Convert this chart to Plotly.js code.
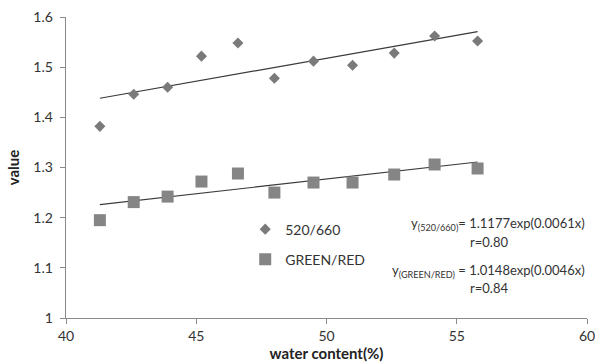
<!DOCTYPE html>
<html>
<head>
<meta charset="utf-8">
<script src="https://cdn.plot.ly/plotly-3.0.1.min.js"></script>
<style>html,body{margin:0;padding:0;background:#fff;}#chart{width:595px;height:363px;}</style>
</head>
<body>
<div id="chart"></div>
<script>
// Data
const waterContent = [41.3, 42.6, 43.9, 45.2, 46.6, 48.0, 49.5, 51.0, 52.6, 54.15, 55.8];
const ratio520_660 = [1.382, 1.446, 1.460, 1.522, 1.548, 1.478, 1.512, 1.504, 1.528, 1.562, 1.552];
const ratioGreenRed = [1.195, 1.231, 1.242, 1.272, 1.288, 1.250, 1.270, 1.270, 1.286, 1.306, 1.298];
// Trendline endpoints
const trendX = [41.3, 55.8];
const trend520_660 = [1.438, 1.571];
const trendGreenRed = [1.226, 1.311];
const seriesNames = ['520/660', 'GREEN/RED'];
const xTicks = [40, 45, 50, 55, 60];
const yTicks = [1, 1.1, 1.2, 1.3, 1.4, 1.5, 1.6];

const FONT = 'Lato, "Open Sans", sans-serif';

const traces = [
  {x: trendX, y: trend520_660, mode: 'lines', line: {color: '#3a3a3a', width: 1.2}, showlegend: false, hoverinfo: 'skip'},
  {x: trendX, y: trendGreenRed, mode: 'lines', line: {color: '#3a3a3a', width: 1.2}, showlegend: false, hoverinfo: 'skip'},
  {x: waterContent, y: ratio520_660, mode: 'markers', name: seriesNames[0], legendgroup: 'a',
   marker: {symbol: 'diamond', size: 8.5, color: '#7a7a7a'}},
  {x: waterContent, y: ratioGreenRed, mode: 'markers', name: seriesNames[1], legendgroup: 'b',
   marker: {symbol: 'square', size: 12, color: '#858585'}}
];

const layout = {
  width: 595, height: 363,
  margin: {l: 66, r: 8, t: 17, b: 45},
  paper_bgcolor: '#fff', plot_bgcolor: '#fff',
  font: {family: FONT, size: 13, color: '#333'},
  xaxis: {
    range: [40, 60], tickvals: xTicks, ticktext: xTicks.map(String),
    showgrid: false, zeroline: false, showline: true, linecolor: '#8a8a8a', linewidth: 1.3,
    ticks: 'outside', ticklen: 5, tickcolor: '#8a8a8a', tickfont: {size: 14, color: '#333'},
    ticklabeloverflow: 'allow',
    title: {text: 'water content(%)', font: {size: 15, color: '#222', weight: 'bold'}, standoff: 4}
  },
  yaxis: {
    range: [1, 1.6], tickvals: yTicks, ticktext: yTicks.map(String),
    showgrid: false, zeroline: false, showline: true, linecolor: '#8a8a8a', linewidth: 1.3,
    ticks: 'outside', ticklen: 5, tickcolor: '#8a8a8a', tickfont: {size: 14, color: '#333'},
    ticklabelstandoff: 4, ticklabeloverflow: 'allow',
    title: {text: 'value', font: {size: 15, color: '#222', weight: 'bold'}, standoff: 10}
  },
  legend: {
    x: 0.344, y: 0.347, xanchor: 'left', yanchor: 'top',
    bgcolor: 'rgba(0,0,0,0)', font: {size: 14, color: '#333'},
    tracegroupgap: 9, itemwidth: 30
  },
  annotations: [
    {xref: 'paper', yref: 'paper', x: 1.0, y: 0.312, xanchor: 'right', yanchor: 'middle', showarrow: false,
     text: 'y<sub>(520/660)</sub>= 1.1177exp(0.0061x)', font: {size: 13, color: '#333'}},
    {xref: 'paper', yref: 'paper', x: 0.812, y: 0.252, xanchor: 'center', yanchor: 'middle', showarrow: false,
     text: 'r=0.80', font: {size: 13, color: '#333'}},
    {xref: 'paper', yref: 'paper', x: 1.0, y: 0.155, xanchor: 'right', yanchor: 'middle', showarrow: false,
     text: 'y<sub>(GREEN/RED)</sub> = 1.0148exp(0.0046x)', font: {size: 13, color: '#333'}},
    {xref: 'paper', yref: 'paper', x: 0.812, y: 0.10, xanchor: 'center', yanchor: 'middle', showarrow: false,
     text: 'r=0.84', font: {size: 13, color: '#333'}}
  ]
};

Plotly.newPlot('chart', traces, layout, {staticPlot: true, displayModeBar: false});
</script>
</body>
</html>
